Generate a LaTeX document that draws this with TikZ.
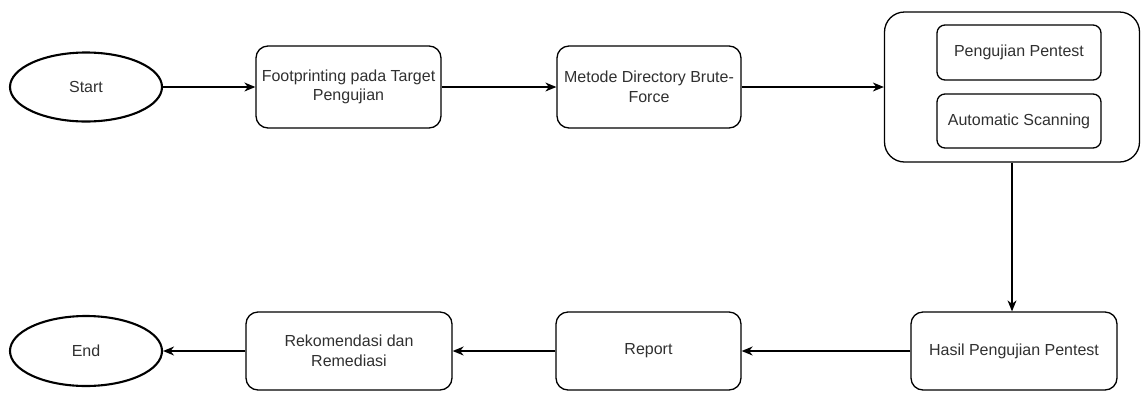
\documentclass[tikz,border=0pt]{standalone}
\usepackage{fontspec}
\setmainfont{Liberation Sans}
\usetikzlibrary{shapes.geometric,arrows.meta}
\definecolor{txt}{HTML}{303030}
\begin{document}
\begin{tikzpicture}[x=1pt,y=-1pt,
  every node/.style={inner sep=0pt, font=\fontsize{16}{19.5}\selectfont, text=txt, align=center},
  term/.style={draw, ellipse, line width=2.1pt, minimum width=152pt, minimum height=69pt},
  box/.style={draw, rounded corners=12pt, line width=1.3pt},
  inbox/.style={draw, rounded corners=8pt, line width=1.3pt, minimum width=164pt, minimum height=54pt},
  conn/.style={line width=1.3pt, -{Stealth[length=11pt,width=9pt,inset=3.5pt]}}]
\useasboundingbox (0,0) rectangle (1141,392);
% top row
\node[term] (start) at (86,87) {Start};
\node[box, minimum width=185pt, minimum height=82pt] (fp) at (348.5,87) {Footprinting pada Target\\Pengujian};
\node[box, minimum width=184pt, minimum height=82pt] (md) at (649,87) {Metode Directory Brute-\\Force};
\node[draw, rounded corners=20pt, line width=1.3pt, minimum width=255pt, minimum height=150pt] (cont) at (1012,87) {};
\node[inbox, minimum height=55pt] (pp) at (1019,52.5) {Pengujian Pentest};
\node[inbox] (as) at (1019,121) {Automatic Scanning};
% bottom row
\node[box, minimum width=206pt, minimum height=78pt] (hasil) at (1014,351) {Hasil Pengujian Pentest};
\node[box, minimum width=185pt, minimum height=78pt] (report) at (648.5,351) {Report};
\node[box, minimum width=206pt, minimum height=78pt] (rek) at (349,351) {Rekomendasi dan\\Remediasi};
\node[term, minimum height=70pt] (end) at (86,351) {End};
% connectors
\draw[conn] (start.east) -- (fp.west);
\draw[conn] (fp.east) -- (md.west);
\draw[conn] (md.east) -- (cont.west);
\draw[conn] (cont.south) -- (cont.south |- hasil.north);
\draw[conn] (hasil.west) -- (report.east);
\draw[conn] (report.west) -- (rek.east);
\draw[conn] (rek.west) -- (end.east);
\end{tikzpicture}
\end{document}
